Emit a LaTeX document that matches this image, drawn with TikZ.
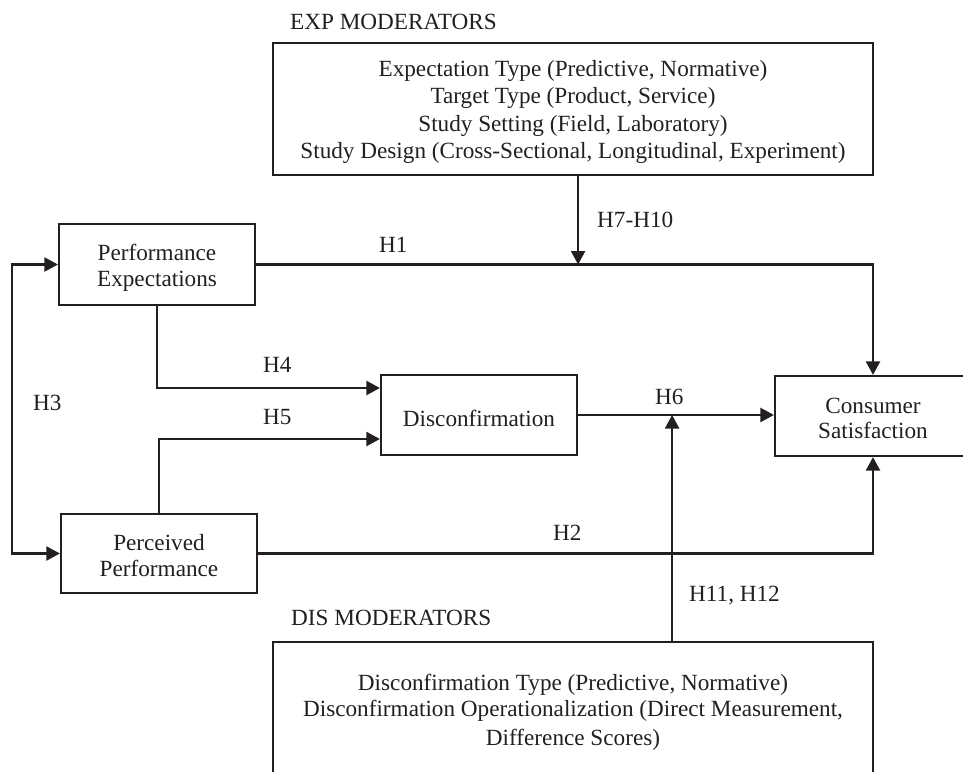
\documentclass[tikz,border=0pt]{standalone}
\usepackage{fontspec}
\setmainfont{Liberation Serif}
\usetikzlibrary{arrows.meta,calc}
\definecolor{ink}{RGB}{35,31,32}
\begin{document}
\begin{tikzpicture}[x=1pt,y=-1pt,
  every node/.style={font=\fontsize{23.2}{26}\selectfont, text=ink},
  box/.style={draw=ink, line width=2.2pt, inner sep=0pt},
  txt/.style={inner sep=0pt, align=center},
  arr/.style={draw=ink, line width=2.2pt, -{Triangle[length=13.5pt,width=14pt]}},
  biarr/.style={draw=ink, line width=2.2pt,
    {Triangle[length=13.5pt,width=14pt]}-{Triangle[length=13.5pt,width=14pt]}},
  lab/.style={inner sep=0pt, anchor=west}]
\useasboundingbox (0,0) rectangle (963,771);

% moderator boxes
\node[box, minimum width=600pt, minimum height=132pt] (exp) at (573,109) {};
\node[txt, font=\fontsize{23.2}{27.6}\selectfont] (exp-t) at ([yshift=-3pt]exp.center)
  {Expectation Type (Predictive, Normative)\\
   Target Type (Product, Service)\\
   Study Setting (Field, Laboratory)\\
   Study Design (Cross-Sectional, Longitudinal, Experiment)};
\node[box, minimum width=600pt, minimum height=140pt] (dism) at (573,712) {};
\node[txt] (dism-t) at (573,712)
  {Disconfirmation Type (Predictive, Normative)\\
   Disconfirmation Operationalization (Direct Measurement,\\[3pt]
   Difference Scores)};

% construct boxes
\node[box, minimum width=196pt, minimum height=81pt] (pe) at (157,264.5) {};
\node[txt] (pe-t) at ([yshift=-3pt]pe.center) {Performance\\Expectations};
\node[box, minimum width=196pt, minimum height=79pt] (pp) at (159,553.5) {};
\node[txt] (pp-t) at ([yshift=-2pt]pp.center) {Perceived\\Performance};
\node[box, minimum width=196pt, minimum height=80pt] (dis) at (479,415) {};
\node[txt] (dis-t) at ([yshift=-3pt]dis.center) {Disconfirmation};
\node[box, minimum width=196pt, minimum height=80pt] (cs) at (873,416) {};
\node[txt, font=\fontsize{23.2}{25}\selectfont] (cs-t) at ([yshift=-2pt]cs.center)
  {Consumer\\Satisfaction};

% headings and hypothesis labels
\node[lab] (lexp) at (290,22) {EXP MODERATORS};
\node[lab] (ldis) at (291,618) {DIS MODERATORS};
\node[lab] (h1) at (379,245) {H1};
\node[lab] (h710) at (597,220) {H7-H10};
\node[lab] (h3) at (33,403) {H3};
\node[lab] (h4) at (263,365) {H4};
\node[lab] (h5) at (263,417) {H5};
\node[lab] (h6) at (655,397) {H6};
\node[lab] (h2) at (553,533) {H2};
\node[lab] (h1112) at (689,596) {H11, H12};

% paths
\draw[arr] (pe.east) -| (cs.north);
\draw[arr] (pp.east) -| (cs.south);
\draw[arr] (dis.east) -- (dis.east -| cs.west);
\draw[arr] (pe.south) |- ([yshift=27pt]dis.west);
\draw[arr] (pp.north) |- ([yshift=-24pt]dis.west);
\draw[biarr] (pe.west) -- ++(-46,0) |- (pp.west);
\draw[arr] (exp.south -| dis.east) -- (pe.east -| dis.east);
\coordinate (j6) at ($(dis.east)+(94,0)$);
\draw[arr] (dism.north -| j6) -- (j6);
\end{tikzpicture}
\end{document}
